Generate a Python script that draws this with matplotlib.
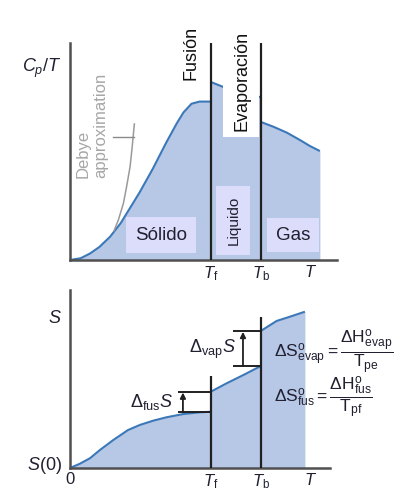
import matplotlib
matplotlib.use("Agg")
import matplotlib.pyplot as plt

plt.rcParams["font.family"] = ["Liberation Sans", "DejaVu Sans"]
plt.rcParams["mathtext.fontset"] = "custom"
plt.rcParams["mathtext.rm"] = "Liberation Sans"
plt.rcParams["mathtext.it"] = "Liberation Sans:italic"
plt.rcParams["mathtext.bf"] = "Liberation Sans:bold"

# phase transition temperatures (arbitrary T units)
T_f = 52.8
T_b = 71.5
T_lbl = 90

# Cp/T curve, per phase
t_solid = [0, 4, 7.5, 11, 15, 19, 22.5, 26, 31, 36, 40, 42.5, 45.5, 48.5, 52.8]
cp_solid = [0, 0.8, 3, 6, 10.7, 17, 24, 31, 42, 54, 63, 68, 72, 73, 73]
t_liquid = [52.8, 57.5, 62, 71.5]
cp_liquid = [82, 79.7, 78, 75]
t_gas = [71.5, 76.2, 81.2, 86.1, 89.9, 93.6]
cp_gas = [63.6, 61.4, 58.7, 55.3, 52.5, 50.2]
t_debye = [16.5, 18.1, 20.0, 21.2, 22.5, 23.3, 24.1]
cp_debye = [13.5, 18.4, 26.1, 33.8, 43.0, 52.2, 62.7]

# entropy curve, per phase
ts_solid = [0, 3.7, 7.5, 11.2, 16.2, 21.7, 26.2, 31.2, 36.2, 42.4, 48.7, 52.8]
s_solid = [0, 2.4, 5.5, 10.1, 15.7, 21.3, 24.2, 26.6, 28.5, 30.3, 31.3, 31.6]
ts_liquid = [52.8, 58.7, 64.9, 71.5]
s_liquid = [42.9, 47.6, 52.2, 57.3]
ts_gas = [71.5, 77.4, 82.4, 88.0]
s_gas = [77.0, 82.6, 85.0, 87.8]

FILL = "#b7c7e6"
LINE = "#3b78b8"
BOX = "#dcdcfb"
AXC = "#505050"
TXT = "#202030"

fig = plt.figure(figsize=(4.04, 4.92), dpi=100)
ax1 = fig.add_axes([70 / 404, 232 / 492, 267 / 404, 217 / 492])
ax2 = fig.add_axes([70 / 404, 24 / 492, 260 / 404, 178 / 492])

for ax in (ax1, ax2):
    for side in ("top", "right"):
        ax.spines[side].set_visible(False)
    for side in ("left", "bottom"):
        ax.spines[side].set_color(AXC)
        ax.spines[side].set_linewidth(1.8)
    ax.tick_params(length=0, labelsize=12, colors=TXT)

# ---- top panel: Cp/T ----
ax1.set_xlim(0, 100)
ax1.set_ylim(0, 100)
for t, c in ((t_solid, cp_solid), (t_liquid, cp_liquid), (t_gas, cp_gas)):
    ax1.fill_between(t, c, 0, color=FILL, lw=0, zorder=1)
    ax1.plot(t, c, color=LINE, lw=1.5, zorder=2, solid_capstyle="butt")

# white patch behind "Evaporación"
ax1.fill_between([57.3, 70.8], 56.7, 100, color="white", lw=0, zorder=2.5)

ax1.plot(t_debye, cp_debye, color="#9a9a9a", lw=1.1, zorder=2)
ax1.plot([16.1, 23.9], [56.7, 56.7], color="#8a8a8a", lw=1.0, zorder=2)
ax1.text(4.9, 37.8, "Debye", rotation=90, ha="center", va="bottom",
         color="#a6a6a6", fontsize=12)
ax1.text(11.6, 37.8, "approximation", rotation=90, ha="center", va="bottom",
         color="#a6a6a6", fontsize=12)

ax1.vlines([T_f, T_b], 0, 100, color="#202020", lw=1.6, zorder=4)
ax1.text(45.3, 95.2, "Fusión", rotation=90, ha="center", va="center",
         fontsize=13, color="#111111")
ax1.text(64.4, 82.3, "Evaporación", rotation=90, ha="center", va="center",
         fontsize=13, color="#111111", zorder=5)

ax1.text(34.1, 11.5, "Sólido", ha="center", va="center", fontsize=13.5, color=TXT,
         zorder=3, bbox=dict(boxstyle="square,pad=0.5", fc=BOX, ec="none"))
ax1.text(83.5, 11.5, "Gas", ha="center", va="center", fontsize=13.5, color=TXT,
         zorder=3, bbox=dict(boxstyle="square,pad=0.45", fc=BOX, ec="none"))
ax1.text(61.2, 18.4, "Liquido", rotation=90, ha="center", va="center",
         fontsize=11, color=TXT, zorder=3,
         bbox=dict(boxstyle="square,pad=0.65", fc=BOX, ec="none"))

ax1.set_xticks([T_f, T_b, T_lbl])
ax1.set_xticklabels([r"$T_\mathrm{f}$", r"$T_\mathrm{b}$", r"$T$"])
ax1.set_yticks([90])
ax1.set_yticklabels([r"$C_p/T$"], fontsize=13)
ax1.tick_params(axis="y", pad=6)
ax1.tick_params(axis="x", pad=3)

# ---- bottom panel: S ----
ax2.set_xlim(0, 97.4)
ax2.set_ylim(0, 100)
for t, s in ((ts_solid, s_solid), (ts_liquid, s_liquid), (ts_gas, s_gas)):
    ax2.fill_between(t, s, 0, color=FILL, lw=0, zorder=1)
    ax2.plot(t, s, color=LINE, lw=1.5, zorder=2, solid_capstyle="butt")

ax2.vlines(T_f, 0, 51.7, color="#202020", lw=1.6, zorder=4)
ax2.vlines(T_b, 0, 84.8, color="#202020", lw=1.6, zorder=4)

# entropy jumps
ax2.hlines([s_solid[-1], s_liquid[0]], 40.4, T_f, color="#202020", lw=1.4, zorder=3)
ax2.hlines([s_liquid[-1], s_gas[0]], 61.0, T_b, color="#202020", lw=1.4, zorder=3)
ax2.annotate("", xy=(42.3, s_liquid[0] - 0.5), xytext=(42.3, s_solid[-1]),
             arrowprops=dict(arrowstyle="-|>", color="#202020", lw=1.3,
                             mutation_scale=8, shrinkA=0, shrinkB=0))
ax2.annotate("", xy=(64.8, s_gas[0] - 0.5), xytext=(64.8, s_liquid[-1]),
             arrowprops=dict(arrowstyle="-|>", color="#202020", lw=1.3,
                             mutation_scale=8, shrinkA=0, shrinkB=0))
ax2.text(30.5, 37.1, r"$\Delta_{\mathrm{fus}}S$", ha="center", va="center",
         fontsize=13, color=TXT)
ax2.text(53.5, 66.7, r"$\Delta_{\mathrm{vap}}S$", ha="center", va="center",
         fontsize=13, color=TXT)

ax2.text(76.5, 65.2,
         r"$\Delta\mathrm{S}^{\mathrm{o}}_{\mathrm{evap}} = "
         r"\dfrac{\Delta\mathrm{H}^{\mathrm{o}}_{\mathrm{evap}}}{\mathrm{T}_{\mathrm{pe}}}$",
         ha="left", va="center", fontsize=12.5, color=TXT, clip_on=False)
ax2.text(76.5, 39.3,
         r"$\Delta\mathrm{S}^{\mathrm{o}}_{\mathrm{fus}} = "
         r"\dfrac{\Delta\mathrm{H}^{\mathrm{o}}_{\mathrm{fus}}}{\mathrm{T}_{\mathrm{pf}}}$",
         ha="left", va="center", fontsize=12.5, color=TXT, clip_on=False)

ax2.set_xticks([0, T_f, T_b, T_lbl])
ax2.set_xticklabels(["0", r"$T_\mathrm{f}$", r"$T_\mathrm{b}$", r"$T$"])
ax2.set_yticks([3, 85])
ax2.set_yticklabels([r"$S(0)$", r"$S$"], fontsize=13)
ax2.tick_params(axis="y", pad=6)
ax2.tick_params(axis="x", pad=3)

fig.savefig("out.png", dpi=100)
